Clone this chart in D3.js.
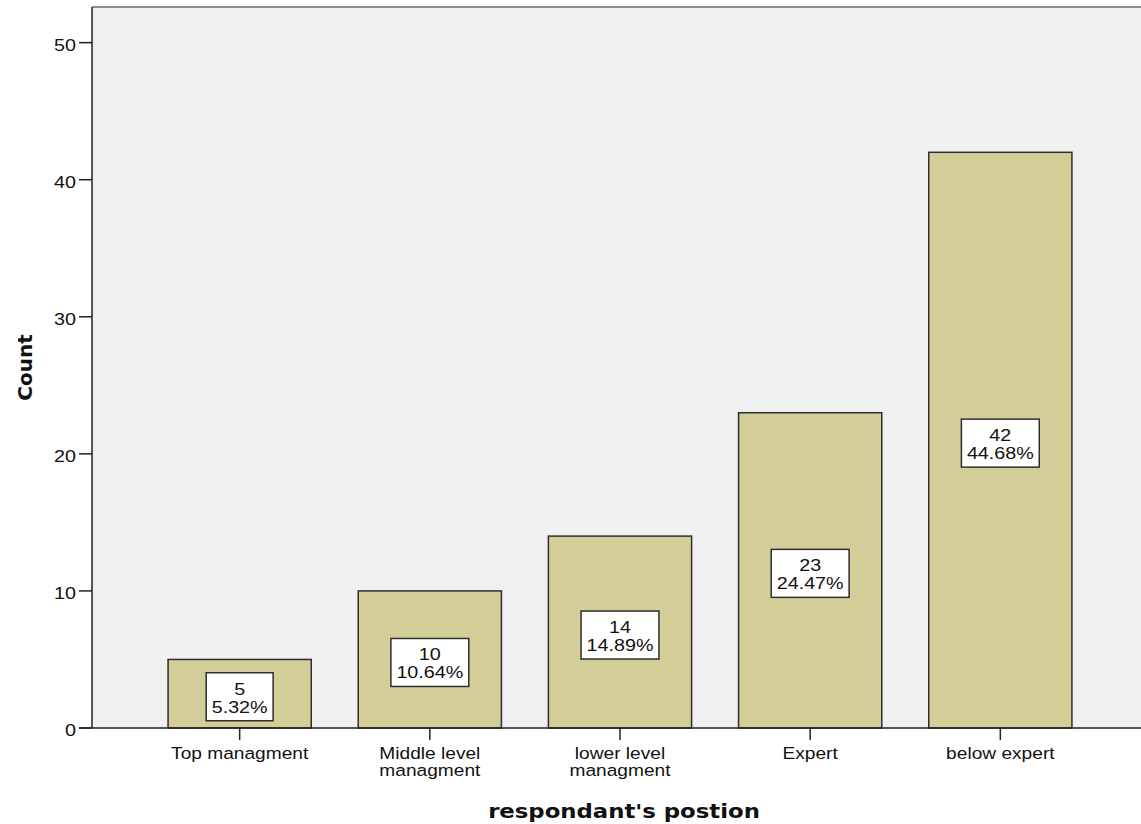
<!DOCTYPE html>
<html>
<head>
<meta charset="utf-8">
<script src="https://cdn.jsdelivr.net/npm/d3@7"></script>
<style>
  html, body { margin: 0; padding: 0; background: #fff; }
  svg { display: block; }
</style>
</head>
<body>
<svg id="chart"></svg>
<script>
// chart data
const categories = ['Top managment', 'Middle level managment', 'lower level managment', 'Expert', 'below expert'];
const categoryLines = [['Top managment'], ['Middle level', 'managment'], ['lower level', 'managment'], ['Expert'], ['below expert']];
const counts = [5, 10, 14, 23, 42];
const percents = ['5.32%', '10.64%', '14.89%', '24.47%', '44.68%'];
const yTicks = [0, 10, 20, 30, 40, 50];

const width = 1141;
const height = 824;
const plotLeft = 92;
const plotRight = 1148;
const plotTop = 7;
const plotBottom = 728;
const sx = 1.16; // text is a bit wider than normal in the reference

const svg = d3.select('#chart')
  .attr('width', width)
  .attr('height', height);

const x = d3.scaleBand()
  .domain(categories)
  .range([plotLeft, plotRight])
  .paddingInner(0.247)
  .paddingOuter(0.4);

const y = d3.scaleLinear()
  .domain([0, 52.6])
  .range([plotBottom, plotTop]);

// plot background
svg.append('rect')
  .attr('x', plotLeft)
  .attr('y', plotTop)
  .attr('width', plotRight - plotLeft)
  .attr('height', plotBottom - plotTop)
  .attr('fill', '#f0f0f0');

svg.append('line')
  .attr('x1', plotLeft).attr('x2', plotRight)
  .attr('y1', plotTop).attr('y2', plotTop)
  .attr('stroke', '#8c8c8c')
  .attr('stroke-width', 2);

// bars
svg.append('g')
  .selectAll('rect')
  .data(counts)
  .join('rect')
  .attr('x', (d, i) => x(categories[i]))
  .attr('y', d => y(d))
  .attr('width', x.bandwidth())
  .attr('height', d => y(0) - y(d))
  .attr('fill', '#d3ce97')
  .attr('stroke', '#2e2e2e')
  .attr('stroke-width', 1.5);

// value boxes
const boxes = svg.append('g')
  .selectAll('g')
  .data(counts)
  .join('g')
  .attr('transform', (d, i) => {
    const cx = x(categories[i]) + x.bandwidth() / 2;
    const cy = (y(d) + y(0)) / 2 + 3;
    return `translate(${cx},${cy})`;
  });

boxes.each(function(d, i) {
  const g = d3.select(this);
  const rect = g.append('rect')
    .attr('fill', '#fff')
    .attr('stroke', '#2e2e2e')
    .attr('stroke-width', 1.5);
  const t1 = g.append('text')
    .attr('transform', `translate(0,-2) scale(${sx},1)`)
    .attr('text-anchor', 'middle')
    .attr('font-family', 'Liberation Sans, Arial, sans-serif')
    .attr('font-size', 17)
    .attr('fill', '#111')
    .text(d);
  const t2 = g.append('text')
    .attr('transform', `translate(0,16) scale(${sx},1)`)
    .attr('text-anchor', 'middle')
    .attr('font-family', 'Liberation Sans, Arial, sans-serif')
    .attr('font-size', 17)
    .attr('fill', '#111')
    .text(percents[i]);
  const w = Math.max(t1.node().getComputedTextLength(), t2.node().getComputedTextLength()) * sx + 11;
  rect.attr('x', -w / 2).attr('y', -24).attr('width', w).attr('height', 48);
});

// y axis
svg.append('line')
  .attr('x1', plotLeft).attr('x2', plotLeft)
  .attr('y1', plotTop).attr('y2', plotBottom)
  .attr('stroke', '#222')
  .attr('stroke-width', 1.5);

const yAxis = svg.append('g');
yAxis.selectAll('line')
  .data(yTicks)
  .join('line')
  .attr('x1', 79).attr('x2', plotLeft)
  .attr('y1', d => y(d)).attr('y2', d => y(d))
  .attr('stroke', '#222')
  .attr('stroke-width', 1.5);
yAxis.selectAll('text')
  .data(yTicks)
  .join('text')
  .attr('transform', d => `translate(76,${y(d) + 8}) scale(${sx},1)`)
  .attr('text-anchor', 'end')
  .attr('font-family', 'Liberation Sans, Arial, sans-serif')
  .attr('font-size', 17)
  .attr('fill', '#111')
  .text(d => d);

// x axis
svg.append('line')
  .attr('x1', 79).attr('x2', width)
  .attr('y1', plotBottom).attr('y2', plotBottom)
  .attr('stroke', '#222')
  .attr('stroke-width', 1.5);

const xAxis = svg.append('g')
  .selectAll('g')
  .data(categories)
  .join('g')
  .attr('transform', d => `translate(${x(d) + x.bandwidth() / 2},0)`);

xAxis.append('line')
  .attr('y1', plotBottom).attr('y2', plotBottom + 12)
  .attr('stroke', '#222')
  .attr('stroke-width', 1.5);

xAxis.each(function(d, i) {
  const g = d3.select(this);
  categoryLines[i].forEach((line, j) => {
    g.append('text')
      .attr('transform', `translate(0,${759 + j * 17}) scale(${sx},1)`)
      .attr('text-anchor', 'middle')
      .attr('font-family', 'Liberation Sans, Arial, sans-serif')
      .attr('font-size', 16.5)
      .attr('fill', '#111')
      .text(line);
  });
});

// axis titles
svg.append('text')
  .attr('transform', `translate(624,818) scale(1.2,1)`)
  .attr('text-anchor', 'middle')
  .attr('font-family', 'DejaVu Sans, Verdana, sans-serif')
  .attr('font-weight', 'bold')
  .attr('font-size', 19)
  .attr('fill', '#111')
  .text("respondant's postion");

svg.append('text')
  .attr('transform', `translate(32,${(plotTop + plotBottom) / 2}) rotate(-90)`)
  .attr('text-anchor', 'middle')
  .attr('font-family', 'DejaVu Sans, Verdana, sans-serif')
  .attr('font-weight', 'bold')
  .attr('font-size', 20)
  .attr('fill', '#111')
  .text('Count');
</script>
</body>
</html>
